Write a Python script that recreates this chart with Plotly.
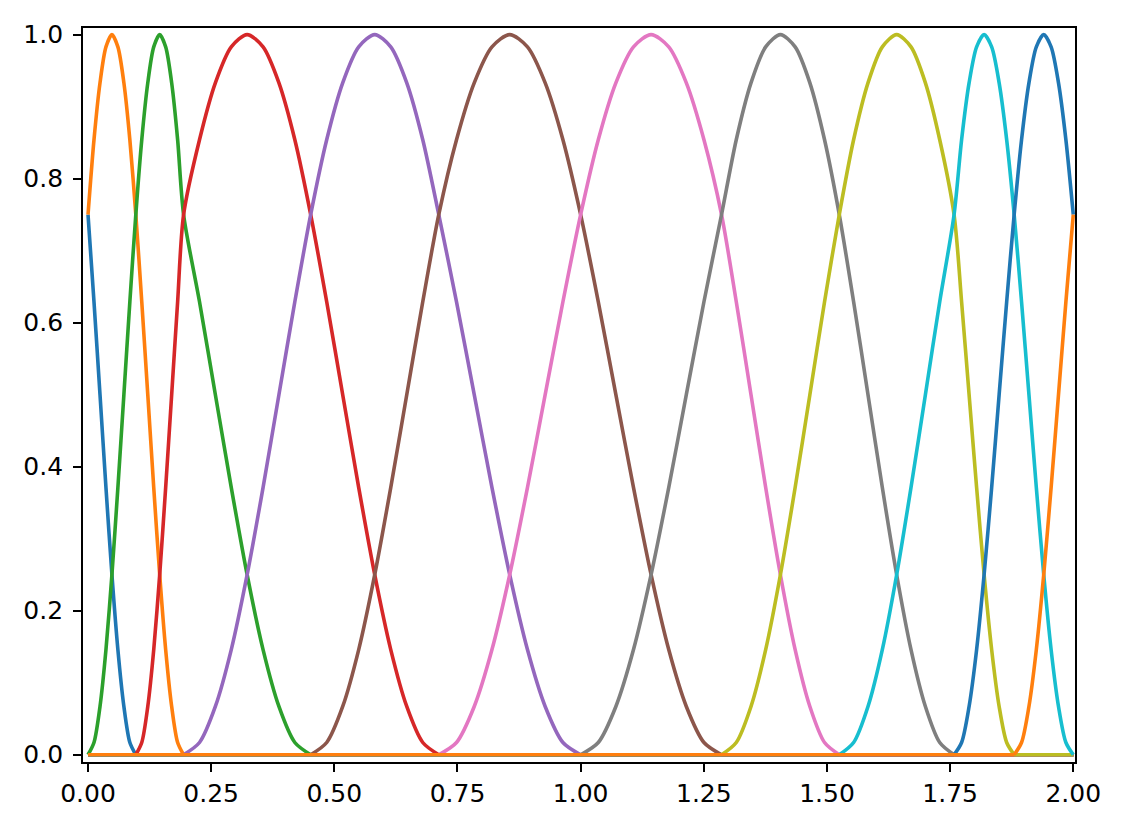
import plotly.graph_objects as go

# x position of each knot of the warped window grid,
# at eighth steps of the window index, from the left edge (0) to the right edge (2)
knot_x = [
    0.0, 0.0121, 0.0243, 0.0364, 0.0485, 0.0606, 0.0728, 0.0849,
    0.097, 0.1091, 0.1213, 0.1334, 0.1455, 0.1576, 0.1698, 0.1819,
    0.194, 0.2263, 0.2585, 0.2908, 0.323, 0.3553, 0.3875, 0.4198,
    0.452, 0.4845, 0.517, 0.5495, 0.582, 0.6145, 0.647, 0.6795,
    0.712, 0.748, 0.784, 0.820, 0.856, 0.892, 0.928, 0.964,
    1.0, 1.0358, 1.0715, 1.1073, 1.143, 1.1788, 1.2145, 1.2503,
    1.286, 1.3159, 1.3458, 1.3756, 1.4055, 1.4354, 1.4653, 1.4951,
    1.525, 1.5541, 1.5833, 1.6124, 1.6415, 1.6706, 1.6998, 1.7289,
    1.758, 1.7733, 1.7885, 1.8038, 1.819, 1.8343, 1.8495, 1.8648,
    1.880, 1.895, 1.910, 1.925, 1.940, 1.955, 1.970, 1.985,
    2.0,
]

# window height at each eighth-step knot of one window
window_y = [0.0, 0.017, 0.067, 0.146, 0.25, 0.371, 0.5, 0.629, 0.75, 0.854, 0.933, 0.983,
            1.0,
            0.983, 0.933, 0.854, 0.75, 0.629, 0.5, 0.371, 0.25, 0.146, 0.067, 0.017, 0.0]

# first knot index of each of the 12 windows (drawn in this order)
window_first_knot = [-16, -8, 0, 8, 16, 24, 32, 40, 48, 56, 64, 72]

colors = ["#1f77b4", "#ff7f0e", "#2ca02c", "#d62728", "#9467bd",
          "#8c564b", "#e377c2", "#7f7f7f", "#bcbd22", "#17becf",
          "#1f77b4", "#ff7f0e"]

x_ticks = [0.0, 0.25, 0.5, 0.75, 1.0, 1.25, 1.5, 1.75, 2.0]
x_tick_text = ["0.00", "0.25", "0.50", "0.75", "1.00", "1.25", "1.50", "1.75", "2.00"]
y_ticks = [0.0, 0.2, 0.4, 0.6, 0.8, 1.0]
y_tick_text = ["0.0", "0.2", "0.4", "0.6", "0.8", "1.0"]

LW = 3.6
fig = go.Figure()
x_min, x_max = knot_x[0], knot_x[-1]
for k, first in enumerate(window_first_knot):
    bx, by = [], []
    for j, yv in enumerate(window_y):
        i = first + j
        if 0 <= i < len(knot_x):
            bx.append(knot_x[i])
            by.append(yv)
    c = colors[k]
    fig.add_trace(go.Scatter(x=bx, y=by, mode="lines",
                             line=dict(color=c, width=LW, shape="spline", smoothing=0.8),
                             showlegend=False, hoverinfo="skip"))
    zx, zy = [], []
    if bx[0] > x_min:
        zx += [x_min, bx[0], None]
        zy += [0, 0, None]
    if bx[-1] < x_max:
        zx += [bx[-1], x_max]
        zy += [0, 0]
    if zx:
        fig.add_trace(go.Scatter(x=zx, y=zy, mode="lines",
                                 line=dict(color=c, width=LW),
                                 showlegend=False, hoverinfo="skip", connectgaps=False))

axis_common = dict(
    showline=True, linecolor="black", linewidth=1.9, mirror=True,
    ticks="outside", ticklen=8, tickwidth=1.9, tickcolor="black",
    showgrid=False, zeroline=False,
    tickfont=dict(family="DejaVu Sans", size=25, color="black"),
)
fig.update_xaxes(range=[-0.0102, 2.0035], tickmode="array", tickvals=x_ticks,
                 ticktext=x_tick_text, **axis_common)
fig.update_yaxes(range=[-0.0101, 1.0092], tickmode="array", tickvals=y_ticks,
                 ticktext=y_tick_text, ticklabelstandoff=5, **axis_common)
fig.update_layout(width=1109, height=813, margin=dict(l=75, r=42, t=15, b=59),
                  plot_bgcolor="white", paper_bgcolor="white")
fig.write_html("out.html")
